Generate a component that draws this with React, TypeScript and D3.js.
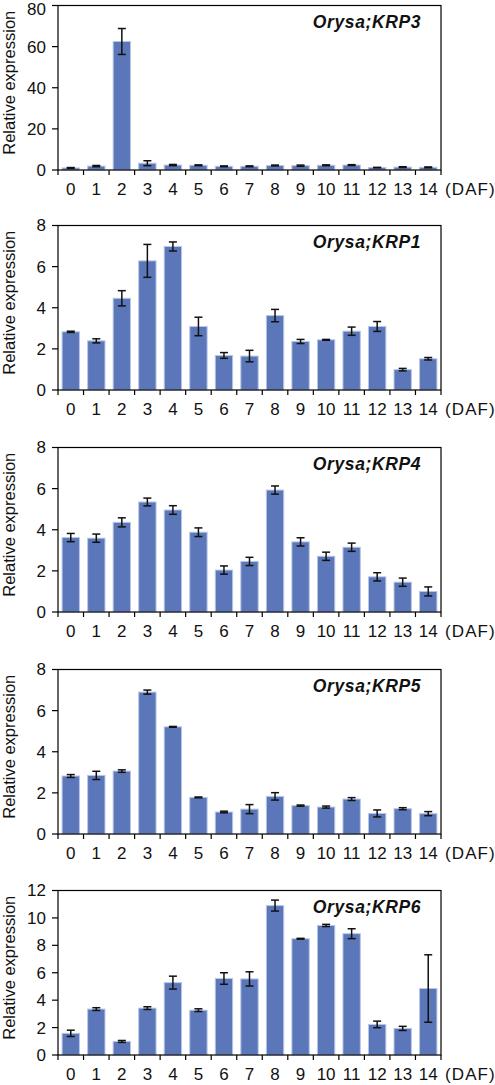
import React from "react";
import * as d3 from "d3";

const days = ["0","1","2","3","4","5","6","7","8","9","10","11","12","13","14"];

const krp3Values = [1.0, 1.9, 62.5, 3.3, 2.4, 2.3, 1.8, 1.8, 2.2, 2.1, 2.3, 2.4, 1.2, 1.4, 1.3];
const krp3Errors = [0.2, 0.3, 6.3, 1.2, 0.3, 0.2, 0.2, 0.2, 0.2, 0.3, 0.2, 0.2, 0.1, 0.2, 0.2];

const krp1Values = [2.83, 2.39, 4.46, 6.28, 6.98, 3.09, 1.68, 1.65, 3.62, 2.36, 2.44, 2.86, 3.09, 0.99, 1.52];
const krp1Errors = [0.03, 0.1, 0.37, 0.8, 0.22, 0.45, 0.14, 0.28, 0.3, 0.1, 0.02, 0.2, 0.24, 0.06, 0.06];

const krp4Values = [3.62, 3.59, 4.36, 5.35, 4.96, 3.88, 2.04, 2.46, 5.93, 3.41, 2.71, 3.15, 1.71, 1.45, 1.0];
const krp4Errors = [0.2, 0.2, 0.22, 0.19, 0.21, 0.21, 0.2, 0.2, 0.2, 0.2, 0.2, 0.2, 0.2, 0.2, 0.22];

const krp5Values = [2.82, 2.85, 3.06, 6.9, 5.21, 1.78, 1.07, 1.21, 1.83, 1.38, 1.31, 1.7, 1.0, 1.23, 0.99];
const krp5Errors = [0.07, 0.2, 0.06, 0.1, 0.02, 0.02, 0.04, 0.22, 0.18, 0.03, 0.05, 0.07, 0.17, 0.05, 0.1];

const krp6Values = [1.58, 3.35, 0.99, 3.42, 5.28, 3.27, 5.58, 5.55, 10.9, 8.48, 9.45, 8.85, 2.23, 1.94, 4.85];
const krp6Errors = [0.23, 0.1, 0.07, 0.1, 0.47, 0.1, 0.42, 0.52, 0.4, 0.03, 0.08, 0.36, 0.24, 0.15, 2.46];

const titles = ["Orysa;KRP3", "Orysa;KRP1", "Orysa;KRP4", "Orysa;KRP5", "Orysa;KRP6"];
const yMaxes = [80, 8, 8, 8, 12];
const yTicks = [
  [0, 20, 40, 60, 80],
  [0, 2, 4, 6, 8],
  [0, 2, 4, 6, 8],
  [0, 2, 4, 6, 8],
  [0, 2, 4, 6, 8, 10, 12],
];
const panelValues = [krp3Values, krp1Values, krp4Values, krp5Values, krp6Values];
const panelErrors = [krp3Errors, krp1Errors, krp4Errors, krp5Errors, krp6Errors];

const W = 495;
const H = 1085;
const left = 58;
const right = 441;
const panelBottoms = [170, 390, 612, 834, 1055];
const panelH = 164.5;
const FONT = "'Liberation Sans', Arial, Helvetica, sans-serif";

function Panel({ idx }: { idx: number }) {
  const bottom = panelBottoms[idx];
  const top = bottom - panelH;
  const x = d3.scaleBand<string>().domain(days).range([left, right]).padding(0);
  const y = d3.scaleLinear().domain([0, yMaxes[idx]]).range([bottom, top]);
  const bw = x.bandwidth() * 0.68;
  const capW = 8;
  const vals = panelValues[idx];
  const errs = panelErrors[idx];
  const boundaries = days.map((d) => x(d) as number).concat([right]);
  return (
    <g>
      {days.map((d, i) => {
        const cx = (x(d) as number) + x.bandwidth() / 2;
        return (
          <rect
            key={"b" + d}
            x={cx - bw / 2}
            y={y(vals[i])}
            width={bw}
            height={bottom - y(vals[i])}
            fill="#5b77b9"
            stroke="#b9c7e6"
            strokeWidth={1}
          />
        );
      })}
      {days.map((d, i) => {
        const cx = (x(d) as number) + x.bandwidth() / 2;
        const yt = y(vals[i] + errs[i]);
        const yb = y(Math.max(0, vals[i] - errs[i]));
        return (
          <g key={"e" + d} stroke="#111" strokeWidth={1.5} fill="none">
            <line x1={cx} x2={cx} y1={yt} y2={yb} />
            <line x1={cx - capW / 2} x2={cx + capW / 2} y1={yt} y2={yt} />
            <line x1={cx - capW / 2} x2={cx + capW / 2} y1={yb} y2={yb} />
          </g>
        );
      })}
      <rect x={left} y={top} width={right - left} height={bottom - top} fill="none" stroke="#000" strokeWidth={1.2} />
      {yTicks[idx].map((t) => (
        <g key={"yt" + t}>
          <line x1={left - 6} x2={left} y1={y(t)} y2={y(t)} stroke="#000" strokeWidth={1.2} />
          <text x={left - 12} y={Math.max(y(t), 9.5)} dy="0.35em" textAnchor="end" fontSize={17} fontFamily={FONT} fill="#111">
            {t}
          </text>
        </g>
      ))}
      {boundaries.map((b, i) => (
        <line key={"xt" + i} x1={b} x2={b} y1={bottom} y2={bottom + 5} stroke="#000" strokeWidth={1.2} />
      ))}
      {days.map((d) => (
        <text
          key={"xl" + d}
          x={(x(d) as number) + x.bandwidth() / 2}
          y={bottom + 24.5}
          textAnchor="middle"
          fontSize={17}
          fontFamily={FONT}
          fill="#111"
        >
          {d}
        </text>
      ))}
      <text x={445} y={bottom + 24.5} fontSize={17} letterSpacing={1.1} fontFamily={FONT} fill="#111">
        (DAF)
      </text>
      <text
        x={421}
        y={top + 22}
        textAnchor="end"
        fontSize={17.5}
        letterSpacing={0.6}
        fontWeight="bold"
        fontStyle="italic"
        fontFamily={FONT}
        fill="#111"
      >
        {titles[idx]}
      </text>
      <text
        transform={`translate(15, ${(top + bottom) / 2 - 5}) rotate(-90)`}
        textAnchor="middle"
        fontSize={16.5}
        fontFamily={FONT}
        fill="#111"
      >
        Relative expression
      </text>
    </g>
  );
}

export default function App() {
  return (
    <svg width={W} height={H} style={{ position: "absolute", left: 0, top: 0, background: "#fff" }}>
      <rect width={W} height={H} fill="#fff" />
      {titles.map((t, i) => (
        <Panel key={t} idx={i} />
      ))}
    </svg>
  );
}
